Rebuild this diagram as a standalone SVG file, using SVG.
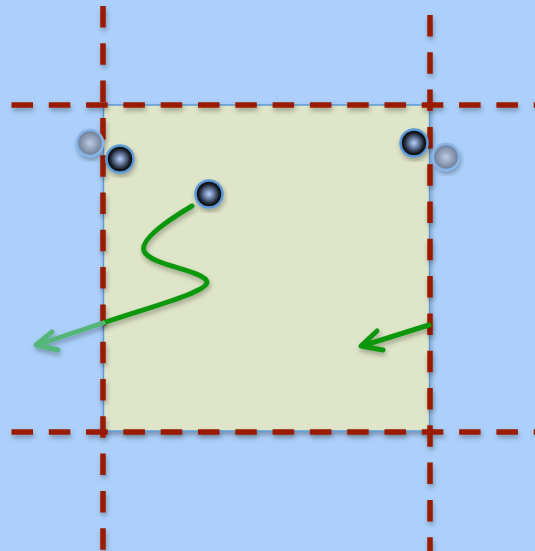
<svg xmlns="http://www.w3.org/2000/svg" width="535" height="551" viewBox="0 0 535 551">
<style>
.guide{fill:none;stroke:#9a1a05;stroke-width:5.5;stroke-dasharray:21.5 15.8}
.port{stroke:#5d9ad6;stroke-width:2.5}
.ghost{stroke:#86b4e8;stroke-width:2.5}
.wire{fill:none;stroke:#0b970b;stroke-width:5;stroke-linecap:round;stroke-linejoin:round}
.wire-out{fill:none;stroke:#55b67c;stroke-width:5;stroke-linecap:round;stroke-linejoin:round}
</style>
<defs>
<filter id="sh" x="-20%" y="-20%" width="140%" height="140%">
<feDropShadow dx="1" dy="3" stdDeviation="2.5" flood-color="#000" flood-opacity="0.3"/>
</filter>
<radialGradient id="dark" cx="50%" cy="50%" r="50%">
<stop offset="0" stop-color="#bcd0f4"/>
<stop offset="0.35" stop-color="#6c82aa"/>
<stop offset="0.75" stop-color="#181c26"/>
<stop offset="1" stop-color="#040506"/>
</radialGradient>
<radialGradient id="light" cx="50%" cy="50%" r="50%">
<stop offset="0" stop-color="#bccce6"/>
<stop offset="1" stop-color="#6a7990"/>
</radialGradient>
</defs>
<rect x="0" y="0" width="535" height="551" fill="#acd0fb"/>
<g id="square" filter="url(#sh)">
<rect x="103.5" y="105" width="326" height="326" fill="#dfe5c8" stroke="#5d9ad6" stroke-width="1.5"/>
</g>
<g id="guides" filter="url(#sh)">
<line class="guide" x1="11.5" y1="105" x2="535" y2="105"/>
<line class="guide" x1="11.5" y1="432" x2="535" y2="432"/>
<line class="guide" x1="103" y1="6" x2="103" y2="551"/>
<line class="guide" x1="430" y1="15" x2="430" y2="551"/>
</g>
<g id="connectors" filter="url(#sh)">
<path class="wire" d="M192,206 C165,222 140,240 144,251 C150,266 205,270 207,282 C208,292 150,307 103,323"/>
<path class="wire-out" d="M103,323 L37,345 M52,332 L36,345 L58,350"/>
<path class="wire" d="M429,325 L362,346 M377,331 L361,346 L383,350"/>
</g>
<g id="port-ghost-left" filter="url(#sh)"><circle class="ghost" cx="90" cy="143" r="13" fill="url(#light)"/></g>
<g id="port-left" filter="url(#sh)"><circle class="port" cx="120" cy="159" r="13.5" fill="url(#dark)"/></g>
<g id="port-right" filter="url(#sh)"><circle class="port" cx="414" cy="143" r="13.5" fill="url(#dark)"/></g>
<g id="port-ghost-right" filter="url(#sh)"><circle class="ghost" cx="446" cy="157" r="13" fill="url(#light)"/></g>
<g id="port-center" filter="url(#sh)"><circle class="port" cx="209" cy="194" r="13.5" fill="url(#dark)"/></g>
</svg>
